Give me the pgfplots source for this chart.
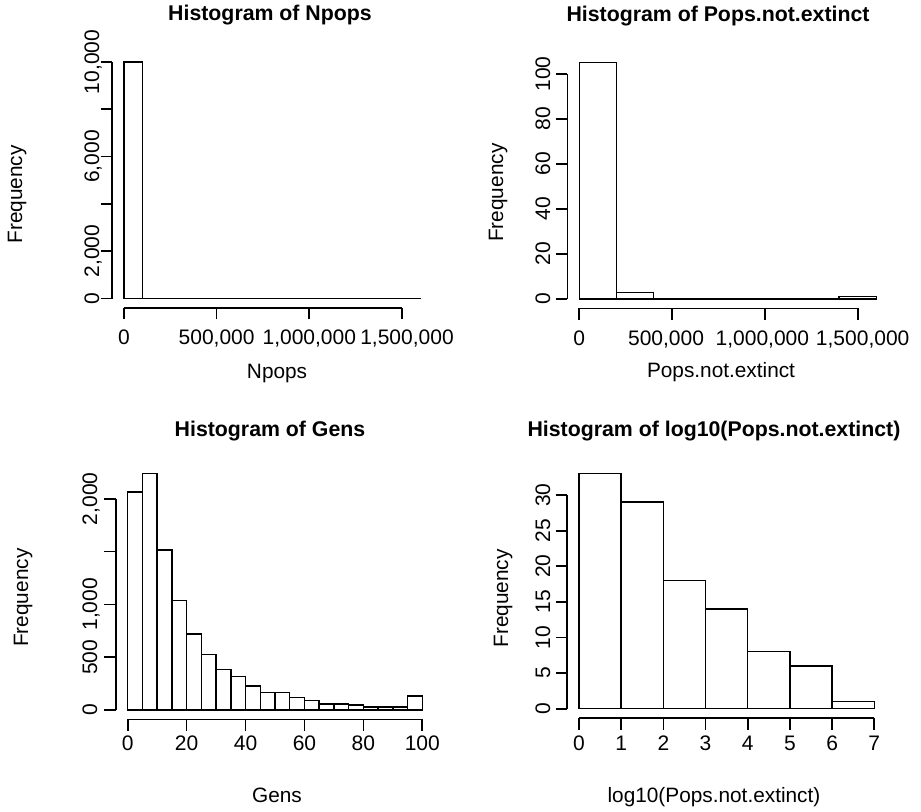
\documentclass[border=0pt]{standalone}
\usepackage{fontspec}
\setmainfont{Liberation Sans}
\usepackage{pgfplots}
\pgfplotsset{compat=1.18}
\pgfplotsset{
  rstyle/.style={
    scale only axis, anchor=south west, clip=false,
    scaled ticks=false,
    axis x line*=bottom, axis y line*=left,
    tick align=outside, major tick length=5.75pt,
    every tick/.style={black, line width=0.85pt},
    axis line style={line width=0.85pt, black},
    minor tick num=0,
    tick label style={font=\fontsize{10.5}{12}\selectfont},
    label style={font=\fontsize{10.4}{12}\selectfont},
    every axis title/.style={font=\bfseries\fontsize{10.65}{12}\selectfont, anchor=base},
    xticklabel style={anchor=base},
    yticklabel style={rotate=90, anchor=base},
    xlabel style={anchor=base},
    ylabel style={rotate=0, anchor=base},
  },
  hbar/.style={ybar interval, draw=black, fill=white, line width=0.7pt},
}
\begin{document}
\begin{tikzpicture}
\useasboundingbox (0,0) rectangle (460.5pt,406pt);
% ---------------- top left
\begin{axis}[rstyle, at={(56.05pt,252pt)}, width=160.15pt, height=127.75pt,
  xmin=-64000, xmax=1664000, ymin=-400, ymax=10400,
  xtick={0,500000,1000000,1500000},
  xticklabels={0,{500,000},{1,000,000},{\hspace*{5pt}1,500,000}},
  ytick={0,2000,4000,6000,8000,10000},
  yticklabels={0,{2,000},{},{6,000},{},{10,000}},
  xticklabel shift=12.65pt, yticklabel shift=0.75pt,
  x axis line style={shorten <=5.932pt, shorten >=15.2pt},
  y axis line style={shorten <=4.731pt, shorten >=4.731pt},
  title={Histogram of Npops},
  title style={at={(axis description cs:0.493,1.1233)}},
  xlabel={Npops},
  xlabel style={at={(axis description cs:0.515,-0.2779)}},
  ylabel={Frequency},
  ylabel style={at={(axis description cs:-0.2813,0.4442)}},
]
\addplot[hbar] coordinates {
(0,9994) (100000,2) (200000,2) (300000,1) (400000,0) (500000,0) (600000,0)
(700000,0) (800000,0) (900000,0) (1000000,0) (1100000,0) (1200000,0)
(1300000,0) (1400000,0) (1500000,1) (1600000,1)};
\end{axis}
% ---------------- top right
\begin{axis}[rstyle, at={(283.7pt,251.775pt)}, width=160.35pt, height=127.575pt,
  xmin=-64000, xmax=1664000, ymin=-4.2, ymax=109.2,
  xtick={0,500000,1000000,1500000},
  xticklabels={0,{500,000\hspace*{6pt}},{1,000,000\hspace*{2.5pt}},{\hspace*{5pt}1,500,000}},
  ytick={0,20,40,60,80,100},
  yticklabels={0,20,40,60,80,100},
  xticklabel shift=12.6pt, yticklabel shift=2.9pt,
  x axis line style={shorten <=5.939pt, shorten >=15.218pt},
  y axis line style={shorten <=4.725pt, shorten >=10.35pt},
  title={Histogram of Pops.not.extinct},
  title style={at={(axis description cs:0.4696,1.1246)}},
  xlabel={Pops.not.extinct},
  xlabel style={at={(axis description cs:0.479,-0.2726)}},
  ylabel={Frequency},
  ylabel style={at={(axis description cs:-0.2008,0.4537)}},
]
\addplot[hbar] coordinates {
(0,105) (200000,3) (400000,0) (600000,0) (800000,0) (1000000,0)
(1200000,0) (1400000,1) (1600000,1)};
\end{axis}
% ---------------- bottom left
\begin{axis}[rstyle, at={(57.95pt,46.275pt)}, width=159.1pt, height=127.625pt,
  xmin=-4, xmax=104, ymin=-89.5, ymax=2327.5,
  xtick={0,20,40,60,80,100},
  xticklabels={0,20,40,60,80,100},
  ytick={0,500,1000,1500,2000},
  yticklabels={0,500,{1,000},{},{2,000}},
  xticklabel shift=9.95pt, yticklabel shift=3.6pt,
  x axis line style={shorten <=5.893pt, shorten >=5.893pt},
  y axis line style={shorten <=4.726pt, shorten >=17.29pt},
  title={Histogram of Gens},
  title style={at={(axis description cs:0.4843,1.1066)}},
  xlabel={Gens},
  xlabel style={at={(axis description cs:0.5063,-0.3273)}},
  ylabel={Frequency},
  ylabel style={at={(axis description cs:-0.2762,0.477)}},
]
\addplot[hbar] coordinates {
(0,2064) (5,2238) (10,1515) (15,1035) (20,720) (25,524) (30,385) (35,316)
(40,227) (45,164) (50,164) (55,120) (60,92) (65,57) (70,57) (75,47)
(80,28) (85,28) (90,28) (95,133) (100,133)};
\end{axis}
% ---------------- bottom right
\begin{axis}[rstyle, at={(283.6pt,46.95pt)}, width=159.45pt, height=126.9pt,
  xmin=-0.28, xmax=7.28, ymin=-1.32, ymax=34.32,
  xtick={0,1,2,3,4,5,6,7},
  xticklabels={0,1,2,3,4,5,6,7},
  ytick={0,5,10,15,20,25,30},
  yticklabels={0,5,10,15,20,25,30},
  xticklabel shift=10.25pt, yticklabel shift=2.75pt,
  x axis line style={shorten <=5.906pt, shorten >=5.906pt},
  y axis line style={shorten <=4.70pt, shorten >=15.38pt},
  title={Histogram of log10(Pops.not.extinct)},
  title style={at={(axis description cs:0.4603,1.1076)}},
  xlabel={log10(Pops.not.extinct)},
  xlabel style={at={(axis description cs:0.4603,-0.3345)}},
  ylabel={Frequency},
  ylabel style={at={(axis description cs:-0.1856,0.4712)}},
]
\addplot[hbar] coordinates {
(0,33) (1,29) (2,18) (3,14) (4,8) (5,6) (6,1) (7,1)};
\end{axis}
\end{tikzpicture}
\end{document}
